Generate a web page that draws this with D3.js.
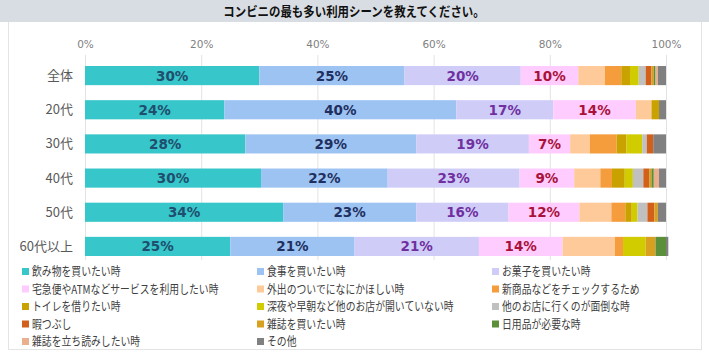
<!DOCTYPE html>
<html><head><meta charset="utf-8">
<script src="https://cdn.jsdelivr.net/npm/d3@7"></script>
<style>
html,body{margin:0;padding:0;background:#fff;}
svg{display:block;}
</style></head>
<body>
<svg id="chart" width="709" height="357"></svg>
<script>
const title = "コンビニの最も多い利用シーンを教えてください。";
const categories = ["全体", "20代", "30代", "40代", "50代", "60代以上"];
const seriesNames = [
  "飲み物を買いたい時", "食事を買いたい時", "お菓子を買いたい時",
  "宅急便やATMなどサービスを利用したい時", "外出のついでになにかほしい時", "新商品などをチェックするため",
  "トイレを借りたい時", "深夜や早朝など他のお店が開いていない時", "他のお店に行くのが面倒な時",
  "暇つぶし", "雑誌を買いたい時", "日用品が必要な時",
  "雑誌を立ち読みしたい時", "その他"
];
const seriesColors = [
  "#37c6c9", "#9dc3f2", "#cfcdf7",
  "#ffccff", "#ffca99", "#f59c3c",
  "#c9a200", "#d0cc00", "#c0c0c0",
  "#d2601a", "#d9a020", "#5b8f3a",
  "#eab08e", "#808080"
];
// values per series, in category order (全体, 20代, 30代, 40代, 50代, 60代以上)
const s_drink    = [30.0, 24.0, 27.6, 30.3, 34.1, 25.0];
const s_meal     = [25.0, 39.9, 29.4, 21.8, 22.9, 21.4];
const s_snack    = [20.0, 16.7, 19.4, 22.7, 15.9, 21.4];
const s_service  = [9.9, 14.2, 7.1, 9.4, 12.2, 14.4];
const s_outing   = [4.6, 2.7, 3.4, 4.5, 5.5, 9.0];
const s_newitem  = [2.8, 0, 4.6, 2.0, 2.4, 1.4];
const s_toilet   = [1.5, 1.3, 1.7, 2.2, 1.1, 0];
const s_night    = [1.5, 0, 2.7, 1.4, 1.0, 3.9];
const s_lazy     = [1.2, 0, 0.8, 1.8, 1.7, 0];
const s_kill     = [1.0, 0, 1.1, 1.0, 1.2, 0];
const s_magazine = [0.4, 0, 0, 0.4, 0.6, 1.7];
const s_daily    = [0.3, 0, 0, 0.4, 0, 1.8];
const s_browse   = [0.4, 0, 0, 0.9, 0, 0];
const s_other    = [1.4, 1.2, 2.2, 1.2, 1.4, 0.4];
const seriesValues = [s_drink, s_meal, s_snack, s_service, s_outing, s_newitem, s_toilet,
  s_night, s_lazy, s_kill, s_magazine, s_daily, s_browse, s_other];
const labelColors = ["#1f4e6e", "#1f3060", "#7030a0", "#a8123a"];
const tickValues = [0, 20, 40, 60, 80, 100];
const tickLabels = ["0%", "20%", "40%", "60%", "80%", "100%"];

const svg = d3.select("#chart");
const W = 709, H = 357;
const jp = "'Noto Sans CJK JP', 'Noto Sans', sans-serif";

// outer frame
svg.append("rect").attr("x", 8.5).attr("y", 0.5).attr("width", 693).attr("height", 349)
  .attr("fill", "#fff").attr("stroke", "#e4e4e4");
// title band
svg.append("rect").attr("x", 0).attr("y", 0).attr("width", W).attr("height", 22).attr("fill", "#d8dde3");
svg.append("text").attr("transform", "translate(354,15.5) scale(0.88,1)").attr("text-anchor", "middle")
  .attr("font-family", jp).attr("font-weight", "bold").attr("font-size", 13).attr("fill", "#111")
  .text(title);

const x = d3.scaleLinear().domain([0, 100]).range([85, 666]);
const y = d3.scaleBand().domain(categories).range([58.5, 263.5]).paddingInner(0.44).paddingOuter(0.22);

// grid lines
svg.append("g").selectAll("line").data(tickValues).join("line")
  .attr("x1", d => x(d) + 0.5).attr("x2", d => x(d) + 0.5)
  .attr("y1", 55).attr("y2", 260)
  .attr("stroke", "#e3e3e3").attr("stroke-width", 1);

// top axis labels
const axis = d3.axisTop(x).tickValues(tickValues).tickFormat((d, i) => tickLabels[i]).tickSize(0).tickPadding(0);
const gAxis = svg.append("g").attr("transform", "translate(0,48)").call(axis);
gAxis.select(".domain").remove();
gAxis.selectAll("text").attr("font-family", "'DejaVu Sans', Verdana, sans-serif")
  .attr("font-size", 10.5).attr("fill", "#7f7f7f");

// stack
const rows = categories.map((c, ci) => {
  const o = { cat: c };
  seriesValues.forEach((arr, si) => { o["s" + si] = arr[ci]; });
  return o;
});
const keys = seriesValues.map((_, i) => "s" + i);
const stacked = d3.stack().keys(keys)(rows);

const gBars = svg.append("g");
stacked.forEach((layer, si) => {
  gBars.append("g").attr("fill", seriesColors[si]).selectAll("rect").data(layer).join("rect")
    .attr("x", d => x(d[0])).attr("width", d => Math.max(0, x(d[1]) - x(d[0])))
    .attr("y", d => y(d.data.cat)).attr("height", y.bandwidth());
});

// value labels on first 4 series
stacked.slice(0, 4).forEach((layer, si) => {
  svg.append("g").selectAll("text").data(layer).join("text")
    .attr("x", d => (x(d[0]) + x(d[1])) / 2)
    .attr("y", d => y(d.data.cat) + y.bandwidth() / 2 + 5)
    .attr("text-anchor", "middle")
    .attr("font-family", "'DejaVu Sans', Verdana, sans-serif").attr("font-weight", "bold")
    .attr("font-size", 13.5).attr("fill", labelColors[si])
    .text(d => Math.round(d[1] - d[0]) + "%");
});

// category labels
svg.append("g").selectAll("text").data(categories).join("text")
  .attr("x", 73).attr("y", d => y(d) + y.bandwidth() / 2 + 4.5)
  .attr("text-anchor", "end").attr("font-family", jp).attr("font-size", 13).attr("fill", "#595959")
  .text(d => d);

// legend
const colX = [22, 257, 492];
const legend = svg.append("g");
seriesNames.forEach((name, i) => {
  const col = i % 3, row = Math.floor(i / 3);
  const ly = 272 + row * 17.5;
  legend.append("rect").attr("x", colX[col]).attr("y", ly - 4).attr("width", 7).attr("height", 7)
    .attr("fill", seriesColors[i]);
  legend.append("text").attr("transform", `translate(${colX[col] + 10},${ly + 4}) scale(0.82,1)`)
    .attr("font-family", jp).attr("font-size", 12).attr("fill", "#404040").text(name);
});
</script>
</body></html>
